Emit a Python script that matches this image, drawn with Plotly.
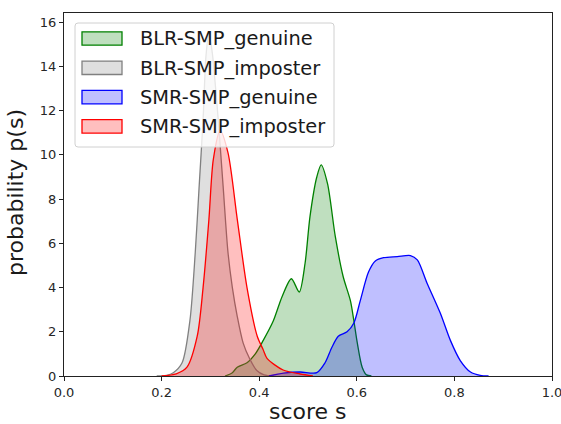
import plotly.graph_objects as go

# Kernel density estimates of match scores
blr_gen_x = [0.33, 0.345, 0.355, 0.375, 0.392, 0.408, 0.429, 0.447, 0.466, 0.482, 0.494,
             0.504, 0.518, 0.527, 0.540, 0.556, 0.572, 0.587, 0.594, 0.601, 0.611, 0.62, 0.63]
blr_gen_y = [0.0, 0.15, 0.4, 0.6, 1.0, 1.6, 2.5, 3.6, 4.4, 3.8, 5.1,
             7.2, 9.0, 9.55, 8.7, 6.3, 4.5, 3.4, 2.5, 1.5, 0.4, 0.05, 0.0]

blr_imp_x = [0.19, 0.21, 0.224, 0.242, 0.258, 0.269, 0.277, 0.285, 0.291, 0.297, 0.304,
             0.31, 0.316, 0.326, 0.336, 0.345, 0.355, 0.367, 0.38, 0.395, 0.41, 0.43]
blr_imp_y = [0.0, 0.03, 0.15, 0.6, 2.5, 5.6, 8.6, 11.6, 14.5, 15.5, 14.6,
             13.2, 11.6, 8.6, 5.6, 4.0, 2.7, 1.5, 0.8, 0.25, 0.05, 0.0]

smr_gen_x = [0.42, 0.45, 0.484, 0.518, 0.535, 0.549, 0.562, 0.58, 0.594, 0.607, 0.624,
             0.638, 0.655, 0.683, 0.71, 0.724, 0.744, 0.771, 0.792, 0.812, 0.833, 0.853, 0.87]
smr_gen_y = [0.0, 0.13, 0.18, 0.15, 0.6, 1.3, 1.8, 2.0, 2.4, 3.4, 4.7,
             5.2, 5.35, 5.4, 5.45, 5.25, 4.2, 2.85, 1.6, 0.7, 0.18, 0.03, 0.0]

smr_imp_x = [0.2, 0.23, 0.252, 0.273, 0.285, 0.297, 0.306, 0.32, 0.336, 0.355, 0.375,
             0.396, 0.408, 0.416, 0.449, 0.484, 0.51]
smr_imp_y = [0.0, 0.1, 0.4, 1.8, 4.0, 7.1, 9.8, 11.1, 10.1, 7.1, 4.0,
             1.8, 1.2, 0.8, 0.27, 0.09, 0.0]

series = [
    ("BLR-SMP_genuine", blr_gen_x, blr_gen_y, "green", "rgba(0,128,0,0.25)"),
    ("BLR-SMP_imposter", blr_imp_x, blr_imp_y, "gray", "rgba(128,128,128,0.25)"),
    ("SMR-SMP_genuine", smr_gen_x, smr_gen_y, "blue", "rgba(0,0,255,0.25)"),
    ("SMR-SMP_imposter", smr_imp_x, smr_imp_y, "red", "rgba(255,0,0,0.25)"),
]

x_ticks = [0.0, 0.2, 0.4, 0.6, 0.8, 1.0]
y_ticks = [0, 2, 4, 6, 8, 10, 12, 14, 16]

W, H = 561, 424
ML, MR, MT, MB = 64, 9, 13, 48
PW, PH = W - ML - MR, H - MT - MB


def px_x(px):
    """Pixel column -> paper x."""
    return (px - ML) / PW


def px_y(py):
    """Pixel row -> paper y."""
    return (H - MB - py) / PH


fig = go.Figure()
for name, xs, ys, line_color, fill_color in series:
    fig.add_trace(go.Scatter(
        x=xs, y=ys, name=name, mode="lines", showlegend=False,
        line=dict(color=line_color, width=1.3, shape="spline", smoothing=0.8),
        fill="tozeroy", fillcolor=fill_color,
    ))

# Boxed legend with wide rectangular swatches
shapes = []
annotations = []
lx0, lx1, ly0, ly1, r = 75, 334, 23, 147, 3
frame_path = (
    f"M{px_x(lx0 + r)},{px_y(ly0)} L{px_x(lx1 - r)},{px_y(ly0)} "
    f"Q{px_x(lx1)},{px_y(ly0)} {px_x(lx1)},{px_y(ly0 + r)} "
    f"L{px_x(lx1)},{px_y(ly1 - r)} Q{px_x(lx1)},{px_y(ly1)} {px_x(lx1 - r)},{px_y(ly1)} "
    f"L{px_x(lx0 + r)},{px_y(ly1)} Q{px_x(lx0)},{px_y(ly1)} {px_x(lx0)},{px_y(ly1 - r)} "
    f"L{px_x(lx0)},{px_y(ly0 + r)} Q{px_x(lx0)},{px_y(ly0)} {px_x(lx0 + r)},{px_y(ly0)} Z"
)
shapes.append(dict(type="path", xref="paper", yref="paper", path=frame_path,
                   fillcolor="rgba(255,255,255,0.8)", line=dict(color="#d0d0d0", width=1),
                   layer="above"))
for i, (name, _, _, line_color, fill_color) in enumerate(series):
    cy = 38.5 + 29.3 * i
    shapes.append(dict(type="rect", xref="paper", yref="paper",
                       x0=px_x(82), x1=px_x(122), y0=px_y(cy - 6.7), y1=px_y(cy + 6.7),
                       fillcolor=fill_color, line=dict(color=line_color, width=1.3),
                       layer="above"))
    annotations.append(dict(xref="paper", yref="paper", x=px_x(137.5), y=px_y(cy + 0.5),
                            xanchor="left", yanchor="middle", showarrow=False, text=name,
                            font=dict(family="DejaVu Sans", size=19.4, color="#1a1a1a")))

# Axis titles
annotations.append(dict(xref="paper", yref="paper", x=0.5, y=px_y(411),
                        xanchor="center", yanchor="middle", showarrow=False, text="score s",
                        height=20, borderpad=0, valign="middle",
                        font=dict(family="DejaVu Sans", size=22, color="#1a1a1a")))
annotations.append(dict(xref="paper", yref="paper", x=px_x(15), y=px_y(193),
                        xanchor="center", yanchor="middle", showarrow=False,
                        text="probability p(s)", textangle=-90,
                        font=dict(family="DejaVu Sans", size=22, color="#1a1a1a")))

axis_common = dict(
    showline=True, linecolor="#222", linewidth=1, mirror=True, automargin=False,
    ticks="outside", ticklen=4, tickcolor="#222", showgrid=False, zeroline=False,
    ticklabeloverflow="allow",
    tickfont=dict(family="DejaVu Sans", size=13, color="#262626"),
)

fig.update_layout(
    width=W, height=H,
    margin=dict(l=ML, r=MR, t=MT, b=MB, autoexpand=False),
    paper_bgcolor="white", plot_bgcolor="white",
    font=dict(family="DejaVu Sans", color="#111"),
    showlegend=False,
    xaxis=dict(range=[0, 1], tickvals=x_ticks, ticktext=[f"{v:.1f}" for v in x_ticks],
               **axis_common),
    yaxis=dict(range=[0, 16.42], tickvals=y_ticks, **axis_common),
    shapes=shapes,
    annotations=annotations,
)

fig.write_html("out.html")
